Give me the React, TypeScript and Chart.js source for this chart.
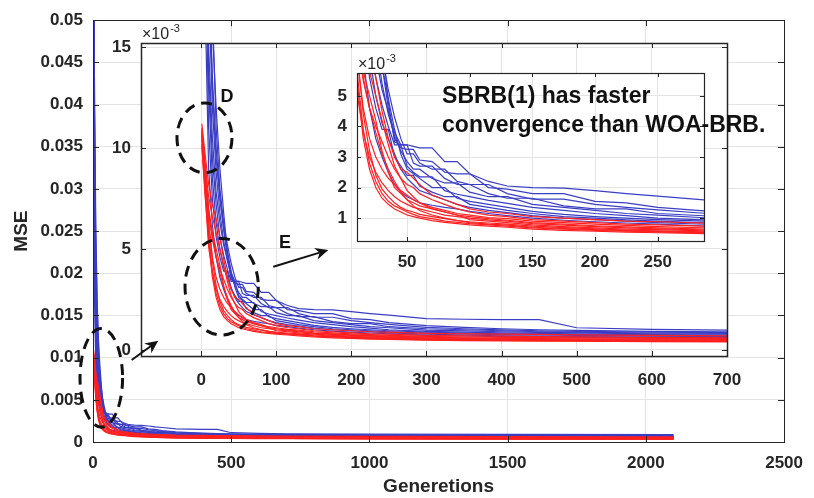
import React, { useEffect, useRef } from 'react';
import { Chart, registerables } from 'chart.js';

Chart.register(...registerables);

// ---------------- data (MSE in units of 1e-3) ----------------
const GENERATIONS = [1, 5, 10, 15, 20, 25, 30, 35, 40, 45, 50, 55, 60, 70, 80, 90, 100, 115, 130, 150, 175, 200, 225, 250, 300, 350, 400, 450, 500, 600, 700, 1000, 1500, 2100];

const WOA_BRB_RUNS = [
  [80, 40, 24, 16, 12, 9, 6.8, 4.8, 3.5, 3.4, 3.4, 3.35, 3.3, 3.3, 2.85, 2.85, 2.45, 2.2, 2.05, 2.0, 1.98, 1.9, 1.8, 1.72, 1.55, 1.52, 1.5, 1.5, 1.1, 1.02, 0.98, 0.93, 0.9, 0.88],
  [70, 34, 19, 13, 9.5, 7.5, 6.0, 4.6, 3.6, 3.3, 3.25, 3.25, 2.9, 2.85, 2.5, 2.45, 2.45, 2.0, 1.95, 1.8, 1.8, 1.55, 1.5, 1.35, 1.2, 1.12, 1.05, 1.0, 0.97, 0.92, 0.9, 0.86, 0.83, 0.8],
  [90, 44, 26, 17, 11, 8, 6.3, 5.2, 4.3, 3.6, 3.1, 3.1, 2.8, 2.6, 2.6, 2.2, 2.1, 2.1, 1.8, 1.62, 1.62, 1.45, 1.35, 1.27, 1.12, 1.05, 0.99, 0.95, 0.92, 0.88, 0.86, 0.8, 0.78, 0.76],
  [60, 28, 15, 10.5, 7.8, 6.3, 5.2, 4.5, 3.8, 3.4, 3.4, 2.8, 2.7, 2.7, 2.3, 2.1, 2.1, 1.8, 1.65, 1.65, 1.4, 1.3, 1.3, 1.15, 1.05, 1.0, 0.95, 0.9, 0.88, 0.84, 0.82, 0.76, 0.72, 0.7],
  [75, 36, 18, 12, 8.8, 6.8, 5.4, 4.4, 3.7, 3.2, 2.85, 2.6, 2.6, 2.3, 2.15, 2.15, 1.85, 1.7, 1.7, 1.45, 1.35, 1.25, 1.15, 1.1, 0.98, 0.94, 0.9, 0.87, 0.85, 0.8, 0.78, 0.72, 0.69, 0.67],
  [65, 30, 14, 9.5, 7.2, 5.6, 4.7, 4.0, 3.4, 3.4, 2.7, 2.5, 2.35, 2.35, 1.9, 1.78, 1.7, 1.58, 1.48, 1.35, 1.25, 1.15, 1.08, 1.0, 0.92, 0.88, 0.85, 0.82, 0.8, 0.76, 0.74, 0.68, 0.65, 0.62],
  [85, 40, 20, 13.5, 10, 7.6, 6.0, 4.9, 3.9, 3.1, 2.6, 2.45, 2.3, 2.0, 2.0, 1.65, 1.55, 1.45, 1.35, 1.22, 1.12, 1.05, 1.0, 0.95, 0.88, 0.84, 0.8, 0.78, 0.76, 0.72, 0.7, 0.65, 0.62, 0.6],
  [55, 22, 11, 7.5, 5.6, 4.6, 3.9, 3.9, 3.0, 2.7, 2.4, 2.4, 2.05, 1.85, 1.7, 1.7, 1.45, 1.35, 1.25, 1.15, 1.05, 1.0, 0.94, 0.9, 0.83, 0.8, 0.76, 0.74, 0.72, 0.68, 0.66, 0.6, 0.57, 0.55],
  [72, 30, 13, 8.5, 6.3, 5.0, 4.1, 3.6, 3.1, 2.6, 2.3, 2.1, 1.9, 1.75, 1.6, 1.45, 1.35, 1.25, 1.18, 1.08, 1.0, 0.95, 0.9, 0.85, 0.78, 0.74, 0.7, 0.68, 0.66, 0.64, 0.62, 0.56, 0.53, 0.5],
  [50, 18, 9, 6.2, 4.6, 3.6, 3.0, 2.5, 2.1, 1.85, 1.7, 1.6, 1.5, 1.42, 1.35, 1.3, 1.22, 1.15, 1.08, 1.0, 0.93, 0.88, 0.84, 0.8, 0.72, 0.69, 0.66, 0.64, 0.62, 0.6, 0.58, 0.52, 0.49, 0.47],
];

const SBRB_RUNS = [
  [11.2, 9.8, 8.2, 7.2, 6.5, 5.6, 4.5, 3.6, 3.0, 2.6, 2.5, 2.3, 2.1, 1.75, 1.6, 1.45, 1.3, 1.2, 1.15, 1.05, 1.0, 0.95, 0.9, 0.88, 0.82, 0.8, 0.78, 0.77, 0.75, 0.72, 0.7, 0.66, 0.63, 0.6],
  [10.8, 9.0, 6.8, 5.6, 4.6, 4.0, 3.5, 3.0, 2.6, 2.3, 2.1, 2.0, 1.8, 1.6, 1.45, 1.3, 1.2, 1.1, 1.05, 0.95, 0.9, 0.85, 0.8, 0.78, 0.72, 0.7, 0.68, 0.66, 0.65, 0.62, 0.6, 0.56, 0.53, 0.5],
  [10.5, 8.6, 6.2, 4.6, 3.6, 3.0, 2.6, 2.3, 2.1, 1.9, 1.75, 1.6, 1.5, 1.35, 1.25, 1.15, 1.1, 1.02, 0.98, 0.9, 0.85, 0.8, 0.76, 0.72, 0.67, 0.64, 0.62, 0.61, 0.6, 0.57, 0.56, 0.52, 0.49, 0.47],
  [10.9, 9.2, 7.0, 5.8, 5.0, 4.2, 3.2, 2.5, 2.0, 1.8, 1.6, 1.5, 1.4, 1.3, 1.2, 1.1, 1.05, 0.98, 0.93, 0.85, 0.8, 0.75, 0.71, 0.68, 0.63, 0.6, 0.58, 0.56, 0.55, 0.53, 0.52, 0.48, 0.46, 0.44],
  [10.2, 8.0, 5.1, 3.8, 3.0, 2.5, 2.15, 1.9, 1.7, 1.55, 1.45, 1.35, 1.3, 1.2, 1.1, 1.05, 1.0, 0.94, 0.9, 0.82, 0.77, 0.72, 0.68, 0.65, 0.6, 0.57, 0.55, 0.53, 0.52, 0.5, 0.48, 0.45, 0.43, 0.41],
  [11.0, 9.3, 7.6, 6.6, 5.8, 5.0, 4.2, 3.4, 2.7, 2.3, 1.9, 1.7, 1.5, 1.3, 1.2, 1.1, 0.95, 0.9, 0.85, 0.78, 0.72, 0.68, 0.64, 0.62, 0.57, 0.54, 0.52, 0.51, 0.5, 0.47, 0.46, 0.43, 0.41, 0.39],
  [10.6, 8.8, 6.5, 4.4, 3.2, 2.4, 1.95, 1.7, 1.5, 1.35, 1.25, 1.2, 1.12, 1.05, 0.98, 0.92, 0.88, 0.84, 0.8, 0.74, 0.69, 0.65, 0.61, 0.58, 0.54, 0.52, 0.5, 0.48, 0.47, 0.45, 0.44, 0.41, 0.39, 0.37],
  [10.4, 8.3, 5.8, 3.9, 2.8, 2.2, 1.8, 1.55, 1.4, 1.3, 1.2, 1.12, 1.05, 0.98, 0.9, 0.86, 0.82, 0.78, 0.74, 0.68, 0.64, 0.6, 0.57, 0.55, 0.5, 0.49, 0.47, 0.46, 0.45, 0.43, 0.42, 0.39, 0.37, 0.35],
  [10.7, 9.0, 6.9, 5.5, 4.6, 3.8, 3.1, 2.6, 2.2, 1.85, 1.6, 1.4, 1.25, 1.1, 1.0, 0.92, 0.85, 0.8, 0.77, 0.7, 0.66, 0.62, 0.59, 0.56, 0.52, 0.5, 0.48, 0.47, 0.46, 0.44, 0.43, 0.4, 0.38, 0.36],
  [10.1, 7.8, 5.5, 3.6, 2.6, 2.0, 1.65, 1.45, 1.3, 1.2, 1.1, 1.05, 1.0, 0.92, 0.86, 0.82, 0.78, 0.74, 0.7, 0.64, 0.6, 0.57, 0.54, 0.52, 0.48, 0.46, 0.45, 0.44, 0.43, 0.41, 0.4, 0.37, 0.35, 0.33],
];

const MAIN_X_TICKS = [0, 500, 1000, 1500, 2000, 2500];
const MAIN_Y_TICKS = [0, 5, 10, 15, 20, 25, 30, 35, 40, 45, 50];
const MAIN_Y_TICK_LABELS = ['0', '0.005', '0.01', '0.015', '0.02', '0.025', '0.03', '0.035', '0.04', '0.045', '0.05'];
const INSET1_X_TICKS = [0, 100, 200, 300, 400, 500, 600, 700];
const INSET1_Y_TICKS = [0, 5, 10, 15];
const INSET2_X_TICKS = [50, 100, 150, 200, 250];
const INSET2_Y_TICKS = [1, 2, 3, 4, 5];

const X_TITLE = 'Generetions';
const Y_TITLE = 'MSE';
const NOTE_LINES = ['SBRB(1) has faster', 'convergence than WOA-BRB.'];

// annotation anchors (in each chart's data units)
const MAIN_ELLIPSE = { x: 30, y: 7.6, rx: 77, ry: 5.84 };
const D_ELLIPSE = { x: 4.5, y: 10.5, rx: 36.6, ry: 1.73 };
const E_ELLIPSE = { x: 27.4, y: 3.13, rx: 48.8, ry: 2.39 };
const D_LABEL = { x: 34.5, y: 12.5, text: 'D' };
const E_LABEL = { x: 111.7, y: 5.3, text: 'E' };
const E_ARROW = { x0: 96.1, y0: 4.12, x1: 169.3, y1: 4.95 };
const MAIN_ARROW = { x0: -92.4, y0: -0.5, x1: -57, y1: 0.46 };
const NOTE_ANCHOR = { x: 77.9, y1: 4.77, y2: 3.82 };

// ---------------- styling ----------------
const FONT = "'Liberation Sans', Arial, Helvetica, sans-serif";
const BLUE = 'rgb(58,62,196)';
const RED = 'rgb(255,32,32)';
const TEXT = '#262626';
const GRID = '#e4e4e4';

function buildDatasets() {
  const ds: any[] = [];
  for (let i = 0; i < SBRB_RUNS.length; i++) {
    ds.push({
      label: 'SBRB(1) run ' + (i + 1),
      data: GENERATIONS.map((g, j) => ({ x: g, y: SBRB_RUNS[i][j] })),
      borderColor: RED, borderWidth: 1.2, pointRadius: 0, tension: 0, fill: false,
    });
    ds.push({
      label: 'WOA-BRB run ' + (i + 1),
      data: GENERATIONS.map((g, j) => ({ x: g, y: WOA_BRB_RUNS[i][j] })),
      borderColor: BLUE, borderWidth: 1.2, pointRadius: 0, tension: 0, fill: false,
    });
  }
  return ds;
}

function dashedEllipse(chart: any, e: any) {
  const { ctx } = chart;
  const xs = chart.scales.x, ys = chart.scales.y;
  const px = xs.getPixelForValue(e.x), py = ys.getPixelForValue(e.y);
  const prx = Math.abs(xs.getPixelForValue(e.x + e.rx) - px);
  const pry = Math.abs(ys.getPixelForValue(e.y + e.ry) - py);
  ctx.save();
  ctx.setLineDash([11, 7]);
  ctx.lineWidth = 3;
  ctx.strokeStyle = '#111';
  ctx.beginPath();
  ctx.ellipse(px, py, prx, pry, 0, 0, Math.PI * 2);
  ctx.stroke();
  ctx.restore();
}

function arrow(chart: any, a: any) {
  const { ctx } = chart;
  const xs = chart.scales.x, ys = chart.scales.y;
  const x0 = xs.getPixelForValue(a.x0), y0 = ys.getPixelForValue(a.y0);
  const x1 = xs.getPixelForValue(a.x1), y1 = ys.getPixelForValue(a.y1);
  const ang = Math.atan2(y1 - y0, x1 - x0);
  const hl = 13, hw = 6;
  ctx.save();
  ctx.strokeStyle = '#111';
  ctx.fillStyle = '#111';
  ctx.lineWidth = 2;
  ctx.beginPath();
  ctx.moveTo(x0, y0);
  ctx.lineTo(x1 - Math.cos(ang) * hl * 0.7, y1 - Math.sin(ang) * hl * 0.7);
  ctx.stroke();
  ctx.beginPath();
  ctx.moveTo(x1, y1);
  ctx.lineTo(x1 - Math.cos(ang) * hl + Math.sin(ang) * hw, y1 - Math.sin(ang) * hl - Math.cos(ang) * hw);
  ctx.lineTo(x1 - Math.cos(ang) * hl * 0.7, y1 - Math.sin(ang) * hl * 0.7);
  ctx.lineTo(x1 - Math.cos(ang) * hl - Math.sin(ang) * hw, y1 - Math.sin(ang) * hl + Math.cos(ang) * hw);
  ctx.closePath();
  ctx.fill();
  ctx.restore();
}

function label(chart: any, l: any, font: string) {
  const { ctx } = chart;
  ctx.save();
  ctx.font = font;
  ctx.fillStyle = '#111';
  ctx.textAlign = 'center';
  ctx.textBaseline = 'middle';
  ctx.fillText(l.text, chart.scales.x.getPixelForValue(l.x), chart.scales.y.getPixelForValue(l.y));
  ctx.restore();
}

function exponentLabel(chart: any) {
  const { ctx, chartArea } = chart;
  ctx.save();
  ctx.fillStyle = TEXT;
  ctx.textBaseline = 'alphabetic';
  ctx.textAlign = 'left';
  ctx.font = `16px ${FONT}`;
  const base = '\u00d710';
  ctx.fillText(base, chartArea.left + 1, chartArea.top - 4);
  const w = ctx.measureText(base).width;
  ctx.font = `11px ${FONT}`;
  ctx.fillText('-3', chartArea.left + 2 + w, chartArea.top - 11);
  ctx.restore();
}

function framePlugin(id: string, opts: { fill: boolean; tick: number; lw: number; extra?: (c: any) => void }) {
  return {
    id,
    beforeDraw(chart: any) {
      if (!opts.fill) return;
      const { ctx, chartArea: a } = chart;
      ctx.save();
      ctx.fillStyle = '#ffffff';
      ctx.fillRect(a.left, a.top, a.right - a.left, a.bottom - a.top);
      ctx.restore();
    },
    afterDatasetsDraw(chart: any) {
      const { ctx, chartArea: a } = chart;
      const xs = chart.scales.x, ys = chart.scales.y;
      ctx.save();
      ctx.strokeStyle = TEXT;
      ctx.lineWidth = 1;
      ctx.beginPath();
      xs.ticks.forEach((t: any) => {
        const p = Math.round(xs.getPixelForValue(t.value)) + 0.5;
        ctx.moveTo(p, a.bottom); ctx.lineTo(p, a.bottom - opts.tick);
        ctx.moveTo(p, a.top); ctx.lineTo(p, a.top + opts.tick);
      });
      ys.ticks.forEach((t: any) => {
        const p = Math.round(ys.getPixelForValue(t.value)) + 0.5;
        ctx.moveTo(a.left, p); ctx.lineTo(a.left + opts.tick, p);
        ctx.moveTo(a.right, p); ctx.lineTo(a.right - opts.tick, p);
      });
      ctx.stroke();
      ctx.lineWidth = opts.lw;
      ctx.strokeRect(Math.round(a.left) + 0.5, Math.round(a.top) + 0.5, Math.round(a.right - a.left), Math.round(a.bottom - a.top));
      ctx.restore();
    },
    afterDraw(chart: any) {
      if (opts.extra) opts.extra(chart);
    },
  };
}

function makeChart(canvas: HTMLCanvasElement, cfg: any) {
  const fixed = (arr: number[]) => (s: any) => { s.ticks = arr.map((v) => ({ value: v })); };
  const tickFont = { family: FONT, size: 17, weight: 'bold' as const };
  return new Chart(canvas, {
    type: 'line',
    data: { datasets: buildDatasets() },
    plugins: [cfg.plugin],
    options: {
      animation: false,
      responsive: false,
      devicePixelRatio: 1,
      events: [],
      layout: { padding: cfg.padding },
      plugins: { legend: { display: false }, tooltip: { enabled: false }, title: { display: false } },
      scales: {
        x: {
          type: 'linear',
          min: cfg.xmin, max: cfg.xmax,
          afterBuildTicks: fixed(cfg.xticks),
          afterFit: (s: any) => { s.height = cfg.xHeight; },
          grid: { color: GRID, drawTicks: false, lineWidth: 1 },
          border: { display: false },
          ticks: {
            color: TEXT, font: tickFont, padding: cfg.xPad, maxRotation: 0, autoSkip: false,
            callback: (v: any) => String(v),
          },
          title: cfg.xTitle
            ? { display: true, text: cfg.xTitle, color: TEXT, font: { family: FONT, size: 19, weight: 'bold' }, padding: { top: 0, bottom: 0 } }
            : { display: false },
        },
        y: {
          type: 'linear',
          min: cfg.ymin, max: cfg.ymax,
          afterBuildTicks: fixed(cfg.yticks),
          afterFit: (s: any) => { s.width = cfg.yWidth; },
          grid: { color: GRID, drawTicks: false, lineWidth: 1 },
          border: { display: false },
          ticks: {
            color: TEXT, font: tickFont, padding: 10, autoSkip: false,
            callback: cfg.yLabels ? (_v: any, i: number) => cfg.yLabels[i] : (v: any) => String(v),
          },
          title: cfg.yTitle
            ? { display: true, text: cfg.yTitle, color: TEXT, font: { family: FONT, size: 19, weight: 'bold' }, padding: { top: 10, bottom: 0 } }
            : { display: false },
        },
      },
    } as any,
  });
}

export default function App() {
  const mainRef = useRef<HTMLCanvasElement>(null);
  const in1Ref = useRef<HTMLCanvasElement>(null);
  const in2Ref = useRef<HTMLCanvasElement>(null);

  useEffect(() => {
    const charts: Chart[] = [];
    charts.push(makeChart(mainRef.current!, {
      padding: { left: 0, right: 21, top: 18, bottom: 0 },
      xmin: 0, xmax: 2500, ymin: 0, ymax: 50,
      xticks: MAIN_X_TICKS, yticks: MAIN_Y_TICKS, yLabels: MAIN_Y_TICK_LABELS,
      xHeight: 56, yWidth: 93, xPad: 11,
      xTitle: X_TITLE, yTitle: Y_TITLE,
      plugin: framePlugin('frameMain', {
        fill: false, tick: 6, lw: 1,
        extra: (c) => dashedEllipse(c, MAIN_ELLIPSE),
      }),
    }));
    charts.push(makeChart(in1Ref.current!, {
      padding: { left: 0, right: 87, top: 43, bottom: 0 },
      xmin: -80, xmax: 700, ymin: -0.3, ymax: 15.2,
      xticks: INSET1_X_TICKS, yticks: INSET1_Y_TICKS,
      xHeight: 142, yWidth: 141, xPad: 14,
      plugin: framePlugin('frameIn1', {
        fill: true, tick: 5, lw: 1.5,
        extra: (c) => {
          exponentLabel(c);
          dashedEllipse(c, D_ELLIPSE);
          dashedEllipse(c, E_ELLIPSE);
          label(c, D_LABEL, `bold 18px ${FONT}`);
          label(c, E_LABEL, `bold 18px ${FONT}`);
          arrow(c, E_ARROW);
          arrow(c, MAIN_ARROW);
        },
      }),
    }));
    charts.push(makeChart(in2Ref.current!, {
      padding: { left: 0, right: 110, top: 73, bottom: 0 },
      xmin: 10, xmax: 287, ymin: 0.25, ymax: 5.75,
      xticks: INSET2_X_TICKS, yticks: INSET2_Y_TICKS,
      xHeight: 257, yWidth: 357, xPad: 11,
      plugin: framePlugin('frameIn2', {
        fill: true, tick: 4, lw: 1.2,
        extra: (c) => {
          exponentLabel(c);
          const { ctx } = c;
          ctx.save();
          ctx.font = `bold 23px ${FONT}`;
          ctx.fillStyle = '#111';
          ctx.textAlign = 'left';
          ctx.textBaseline = 'alphabetic';
          const x = c.scales.x.getPixelForValue(NOTE_ANCHOR.x);
          ctx.fillText(NOTE_LINES[0], x, c.scales.y.getPixelForValue(NOTE_ANCHOR.y1));
          ctx.fillText(NOTE_LINES[1], x, c.scales.y.getPixelForValue(NOTE_ANCHOR.y2));
          ctx.restore();
        },
      }),
    }));
    return () => charts.forEach((c) => c.destroy());
  }, []);

  const layer: React.CSSProperties = { position: 'absolute', left: 0, top: 0 };
  return (
    <div style={{ position: 'absolute', left: 0, top: 0, width: 814, height: 498, background: '#fff', overflow: 'hidden' }}>
      <canvas ref={mainRef} width={814} height={498} style={layer} />
      <canvas ref={in1Ref} width={814} height={498} style={layer} />
      <canvas ref={in2Ref} width={814} height={498} style={layer} />
    </div>
  );
}
